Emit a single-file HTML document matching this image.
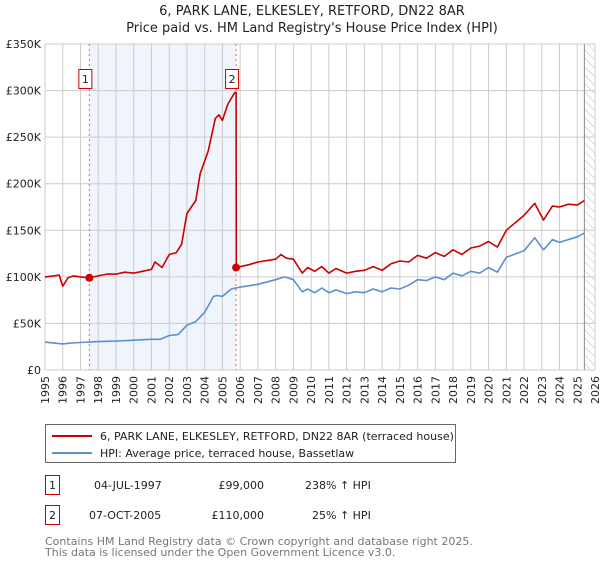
<!DOCTYPE html>
<html><head><meta charset="utf-8">
<style>
body{margin:0;background:#fff;font-family:"DejaVu Sans","Liberation Sans",sans-serif;}
svg text{font-family:"DejaVu Sans","Liberation Sans",sans-serif;}
</style></head>
<body>
<svg id="c" width="600" height="560" xmlns="http://www.w3.org/2000/svg">
<defs>
<pattern id="hatch" width="6" height="6" patternUnits="userSpaceOnUse" patternTransform="rotate(-45)">
<line x1="0" y1="0" x2="0" y2="6" stroke="#bbb" stroke-width="1"/>
</pattern>
</defs>
<text x="312" y="15" font-size="13" text-anchor="middle" fill="#222">6, PARK LANE, ELKESLEY, RETFORD, DN22 8AR</text>
<text x="312" y="32" font-size="13" text-anchor="middle" fill="#222">Price paid vs. HM Land Registry's House Price Index (HPI)</text>
<g id="plot"></g>
<g>
<rect x="45.5" y="424.5" width="410" height="38" fill="#fff" stroke="#666"/>
<line x1="52" y1="436" x2="92" y2="436" stroke="#cc0000" stroke-width="2"/>
<text x="100" y="440" font-size="11" fill="#222">6, PARK LANE, ELKESLEY, RETFORD, DN22 8AR (terraced house)</text>
<line x1="52" y1="453" x2="92" y2="453" stroke="#5b8fd0" stroke-width="2"/>
<text x="100" y="457" font-size="11" fill="#222">HPI: Average price, terraced house, Bassetlaw</text>
</g>
<g font-size="11" fill="#222">
<rect x="45.5" y="475.5" width="14" height="19" fill="#fff" stroke="#cc0000"/>
<text x="52.5" y="489" text-anchor="middle">1</text>
<text x="94" y="489">04-JUL-1997</text>
<text x="264" y="489" text-anchor="end">£99,000</text>
<text x="305" y="489">238% ↑ HPI</text>
<rect x="45.5" y="505.5" width="14" height="19" fill="#fff" stroke="#cc0000"/>
<text x="52.5" y="519" text-anchor="middle">2</text>
<text x="89" y="519">07-OCT-2005</text>
<text x="264" y="519" text-anchor="end">£110,000</text>
<text x="312" y="519">25% ↑ HPI</text>
</g>
<text x="45" y="545" font-size="11" fill="#777">Contains HM Land Registry data © Crown copyright and database right 2025.</text>
<text x="45" y="556" font-size="11" fill="#777">This data is licensed under the Open Government Licence v3.0.</text>
</svg>
<script>
const years=[1995,1996,1997,1998,1999,2000,2001,2002,2003,2004,2005,2006,2007,2008,2009,2010,2011,2012,2013,2014,2015,2016,2017,2018,2019,2020,2021,2022,2023,2024,2025,2026];
const yTicks=[0,50,100,150,200,250,300,350];
const priceT=[1995,1995.5,1995.8,1996.0,1996.3,1996.6,1997.0,1997.5,1998,1998.5,1999,1999.5,2000,2000.5,2001,2001.2,2001.6,2002,2002.4,2002.7,2003,2003.5,2003.75,2004.2,2004.6,2004.8,2005.0,2005.3,2005.7,2005.77,2005.78,2006.5,2007,2008,2008.3,2008.6,2009,2009.5,2009.8,2010.2,2010.6,2011,2011.4,2012,2012.5,2013,2013.5,2014,2014.5,2015,2015.5,2016,2016.5,2017,2017.5,2018,2018.5,2019,2019.5,2020,2020.5,2021,2022,2022.6,2023.1,2023.6,2024,2024.5,2025,2025.4];
const priceV=[100,101,102,90,99,101,100,99,101,103,103,105,104,106,108,116,110,124,126,135,168,182,211,235,270,274,268,285,298,298,110,113,116,119,124,120,119,104,110,106,111,104,109,104,106,107,111,107,114,117,116,123,120,126,122,129,124,131,133,138,132,150,166,179,161,176,175,178,177,182];
const hpiT=[1995,1996,1996.5,1997,1998,1999,2000,2001,2001.5,2002,2002.5,2003,2003.5,2004,2004.5,2004.7,2005,2005.5,2006,2007,2008,2008.5,2009,2009.5,2009.8,2010.2,2010.6,2011,2011.4,2012,2012.5,2013,2013.5,2014,2014.5,2015,2015.5,2016,2016.5,2017,2017.5,2018,2018.5,2019,2019.5,2020,2020.5,2021,2022,2022.6,2023.1,2023.6,2024,2025,2025.4];
const hpiV=[30,28,29,29.5,30.5,31,32,33,33,37,38,48,52,62,79,80,79,87,89,92,97,100,97,84,87,83,88,83,86,82,84,83,87,84,88,87,91,97,96,100,97,104,101,106,104,110,105,121,128,142,129,140,137,143,147];
const sales=[[1997.5,99],[2005.77,110]];
const X0=45,X1=595,Y0=370,Y1=44;
const xs=t=>X0+(t-1995)*(X1-X0)/31;
const ys=v=>Y0-v*(Y0-Y1)/350;
const NS="http://www.w3.org/2000/svg";
const g=document.getElementById('plot');
function el(tag,attrs,parent){const e=document.createElementNS(NS,tag);for(const k in attrs)e.setAttribute(k,attrs[k]);(parent||g).appendChild(e);return e;}
let r=el('rect',{x:xs(1997.5),y:Y1,width:xs(2005.77)-xs(1997.5),height:Y0-Y1,fill:'#f0f4fc'});


r=el('rect',{x:xs(2025.4),y:Y1,width:X1-xs(2025.4),height:Y0-Y1,fill:'url(#hatch)'});


years.forEach(y=>{
 const l=el('line',{x1:xs(y),x2:xs(y),y1:Y1,y2:Y0,stroke:'#ccc','stroke-width':1});
 
 
 const t=el('text',{x:0,y:0,'font-size':11,fill:'#222','text-anchor':'end',transform:`translate(${xs(y)+4},${Y0+6}) rotate(-90)`});
 t.textContent=y;
 
 
});
yTicks.forEach(v=>{
 const l=el('line',{x1:X0,x2:X1,y1:ys(v),y2:ys(v),stroke:'#ccc','stroke-width':1});
 
 
 const t=el('text',{x:X0-4,y:ys(v)+4,'font-size':11,fill:'#222','text-anchor':'end'});
 t.textContent=v===0?'£0':'£'+v+'K';
 
 
});
let ln=el('line',{x1:xs(2025.4),x2:xs(2025.4),y1:Y1,y2:Y0,stroke:'#888','stroke-width':1});


sales.forEach((s,i)=>{
 const l=el('line',{x1:xs(s[0]),x2:xs(s[0]),y1:Y1,y2:Y0,stroke:'#e06666','stroke-width':1,'stroke-dasharray':'2,3'});
 
 
 const b=el('rect',{x:xs(s[0])-10.5,y:69.5,width:13,height:19,fill:'#fff',stroke:'#cc0000'});
 
 
 const t=el('text',{x:xs(s[0])-4,y:83,'font-size':11,fill:'#222','text-anchor':'middle'});
 t.textContent=i+1;
 
 
});
function path(T,V,color,name){
 const d=T.map((t,i)=>(i?'L':'M')+xs(t).toFixed(1)+','+ys(V[i]).toFixed(1)).join('');
 const p=el('path',{d:d,fill:'none',stroke:color,'stroke-width':1.6,'stroke-linejoin':'round'});
 
 
}
path(hpiT,hpiV,'#5b8fd0','hpi-line');
path(priceT,priceV,'#cc0000','price-line');
sales.forEach(s=>{
 const c=el('circle',{cx:xs(s[0]),cy:ys(s[1]),r:4,fill:'#cc0000'});
 
 
});
</script>
</body></html>
